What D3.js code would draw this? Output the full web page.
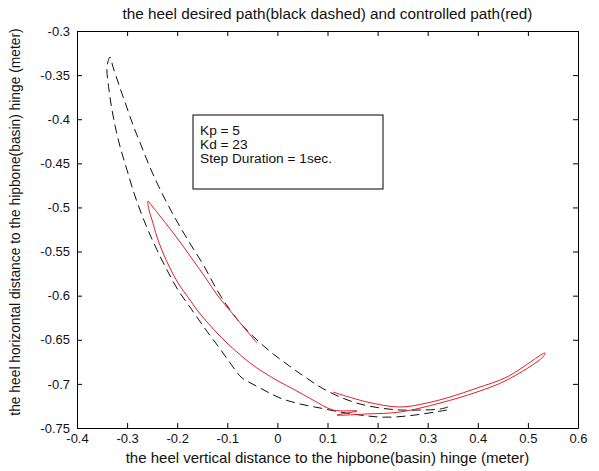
<!DOCTYPE html>
<html>
<head>
<meta charset="utf-8">
<script src="https://cdn.jsdelivr.net/npm/d3@7"></script>
<style>
  body { margin: 0; background: #fff; }
  svg text { font-family: "Liberation Sans", Arial, Helvetica, sans-serif; fill: #111; }
</style>
</head>
<body>
<svg id="chart" width="599" height="471"></svg>
<script>
const titleText = "the heel desired path(black dashed) and controlled path(red)";
const xLabel = "the heel vertical distance to the hipbone(basin) hinge (meter)";
const yLabel = "the heel horizontal distance to the hipbone(basin) hinge (meter)";
const noteLines = ["Kp = 5", "Kd = 23", "Step Duration = 1sec."];

const xTicks = [-0.4, -0.3, -0.2, -0.1, 0, 0.1, 0.2, 0.3, 0.4, 0.5, 0.6];
const yTicks = [-0.3, -0.35, -0.4, -0.45, -0.5, -0.55, -0.6, -0.65, -0.7, -0.75];

// desired heel path (black dashed): bottom branch -> outer left branch -> apex -> inner branch
const desiredPath = [
  [0.3385, -0.7296], [0.3146, -0.7319], [0.2747, -0.7353], [0.2347, -0.7375], [0.2008, -0.7375],
  [0.1649, -0.7353], [0.1250, -0.7319], [0.0850, -0.7273], [0.0451, -0.7228], [0.0052, -0.7160],
  [-0.0307, -0.7058], [-0.0607, -0.6967], [-0.0727, -0.6922], [-0.0986, -0.6729], [-0.1186, -0.6571],
  [-0.1425, -0.6389], [-0.1705, -0.6162], [-0.1984, -0.5936], [-0.2204, -0.5709], [-0.2403, -0.5482],
  [-0.2583, -0.5256], [-0.2743, -0.5029], [-0.2882, -0.4802], [-0.3002, -0.4576], [-0.3122, -0.4349],
  [-0.3222, -0.4122], [-0.3301, -0.3895], [-0.3361, -0.3669], [-0.3401, -0.3408], [-0.3341, -0.3295],
  [-0.3281, -0.3408], [-0.3162, -0.3612], [-0.3022, -0.3839], [-0.2882, -0.4066], [-0.2723, -0.4292],
  [-0.2563, -0.4519], [-0.2383, -0.4746], [-0.2184, -0.4972], [-0.1964, -0.5199], [-0.1725, -0.5426],
  [-0.1465, -0.5664], [-0.1206, -0.5936], [-0.0946, -0.6162], [-0.0687, -0.6344], [-0.0407, -0.6503],
  [-0.0108, -0.6650], [0.0212, -0.6786], [0.0551, -0.6922], [0.0890, -0.7047], [0.1250, -0.7149],
  [0.1649, -0.7228], [0.2048, -0.7273], [0.2447, -0.7296], [0.2846, -0.7296], [0.3246, -0.7285],
  [0.3405, -0.7262]
];

// controlled heel path (red)
const controlledPath = [
  [-0.0407, -0.6537], [-0.0627, -0.6389], [-0.0906, -0.6196], [-0.1186, -0.6004], [-0.1445, -0.5788],
  [-0.1685, -0.5596], [-0.1884, -0.5437], [-0.2124, -0.5256], [-0.2343, -0.5097], [-0.2503, -0.4984],
  [-0.2583, -0.4927], [-0.2563, -0.5029], [-0.2503, -0.5142], [-0.2403, -0.5335], [-0.2283, -0.5516],
  [-0.2144, -0.5686], [-0.1984, -0.5856], [-0.1745, -0.6049], [-0.1605, -0.6162], [-0.1405, -0.6298],
  [-0.1206, -0.6423], [-0.1006, -0.6537], [-0.0786, -0.6650], [-0.0547, -0.6763], [-0.0287, -0.6865],
  [0.0012, -0.6967], [0.0351, -0.7069], [0.0711, -0.7183], [0.1110, -0.7296], [0.1589, -0.7307],
  [0.1190, -0.7353], [0.1789, -0.7341], [0.2447, -0.7319], [0.3246, -0.7217], [0.3984, -0.7092],
  [0.4583, -0.6956], [0.5301, -0.6695], [0.5341, -0.6650], [0.4583, -0.6922], [0.3984, -0.7047],
  [0.3445, -0.7149], [0.2986, -0.7217], [0.2447, -0.7262], [0.1789, -0.7205], [0.1110, -0.7092]
];

const width = 599, height = 471;
const margin = {top: 31, right: 21, bottom: 43, left: 77};

const svg = d3.select("#chart");

let x = d3.scaleLinear().domain([-0.4, 0.6]).range([margin.left, width - margin.right]);
let y = d3.scaleLinear().domain([-0.75, -0.3]).range([height - margin.bottom, margin.top]);

const fmt = d => String(+d.toFixed(2));

svg.append("g")
    .attr("transform", "translate(0," + (height - margin.bottom) + ")")
    .call(d3.axisBottom(x).tickValues(xTicks).tickFormat(fmt).tickSizeInner(-5).tickSizeOuter(0).tickPadding(6));
svg.append("g")
    .attr("transform", "translate(0," + margin.top + ")")
    .call(d3.axisTop(x).tickValues(xTicks).tickFormat("").tickSizeInner(-5).tickSizeOuter(0));
svg.append("g")
    .attr("transform", "translate(" + margin.left + ",0)")
    .call(d3.axisLeft(y).tickValues(yTicks).tickFormat(fmt).tickSizeInner(-5).tickSizeOuter(0).tickPadding(7));
svg.append("g")
    .attr("transform", "translate(" + (width - margin.right) + ",0)")
    .call(d3.axisRight(y).tickValues(yTicks).tickFormat("").tickSizeInner(-5).tickSizeOuter(0));

svg.selectAll(".tick text")
    .style("font-size", "13px")
    .attr("fill", "#111");
svg.selectAll(".domain, .tick line").attr("stroke", "#000");

let line = d3.line()
    .x(d => x(d[0]))
    .y(d => y(d[1]))
    .curve(d3.curveCatmullRom.alpha(0.5));

svg.append("path")
    .datum(desiredPath)
    .attr("fill", "none")
    .attr("stroke", "#111")
    .attr("stroke-width", 1)
    .attr("stroke-dasharray", "9,5")
    .attr("d", line);

svg.append("path")
    .datum(controlledPath)
    .attr("fill", "none")
    .attr("stroke", "#e0202a")
    .attr("stroke-width", 1)
    .attr("d", line);

// annotation box
let note = svg.append("g");
note.append("rect")
    .attr("x", 193).attr("y", 115)
    .attr("width", 190).attr("height", 74)
    .attr("fill", "#fff")
    .attr("stroke", "#000");
note.selectAll("text").data(noteLines)
  .join("text")
    .attr("x", 200)
    .attr("y", (d, i) => 135 + i * 14.2)
    .style("font-size", "13.7px")
    .text(d => d);

svg.append("text")
    .attr("x", (margin.left + width - margin.right) / 2)
    .attr("y", 19)
    .attr("text-anchor", "middle")
    .style("font-size", "15.3px")
    .text(titleText);

svg.append("text")
    .attr("x", (margin.left + width - margin.right) / 2)
    .attr("y", 463)
    .attr("text-anchor", "middle")
    .style("font-size", "15px")
    .text(xLabel);

svg.append("text")
    .attr("transform", "translate(20,222) rotate(-90)")
    .attr("text-anchor", "middle")
    .style("font-size", "13.8px")
    .text(yLabel);
</script>
</body>
</html>
